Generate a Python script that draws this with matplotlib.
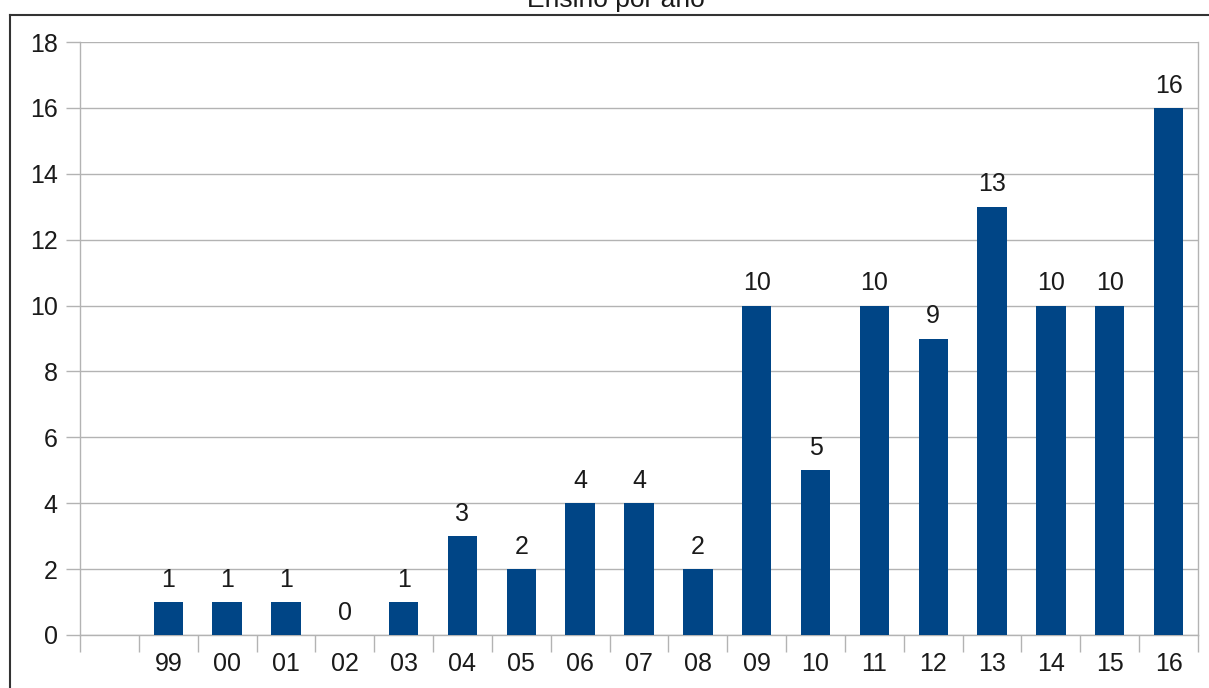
import matplotlib.pyplot as plt
import numpy as np
from matplotlib.lines import Line2D

# anos (dois digitos) e quantidade por ano
anos = ['99', '00', '01', '02', '03', '04', '05', '06', '07', '08',
        '09', '10', '11', '12', '13', '14', '15', '16']
quantidade = [1, 1, 1, 0, 1, 3, 2, 4, 4, 2, 10, 5, 10, 9, 13, 10, 10, 16]

plt.rcParams['font.family'] = ['Liberation Sans', 'DejaVu Sans']

fig = plt.figure(figsize=(12.09, 6.88), dpi=100)
ax = fig.add_axes([80 / 1209, 1 - 635 / 688, 1118 / 1209, 593 / 688])

# primeira categoria fica vazia
x = np.arange(1, len(anos) + 1)
bars = ax.bar(x, quantidade, width=0.5, color='#004586', zorder=3)
for b, v in zip(bars, quantidade):
    ax.annotate(str(v), (b.get_x() + b.get_width() / 2, v),
                xytext=(0, 11), textcoords='offset points',
                ha='center', va='baseline', fontsize=18, color='#1a1a1a')

ax.set_xlim(-0.5, len(anos) + 0.5)
ax.set_ylim(0, 18)
ax.set_yticks(range(0, 19, 2))
ax.yaxis.grid(True, color='#b3b3b3', linewidth=1, zorder=0)

ax.set_xticks(x)
ax.set_xticklabels(anos)
ax.set_xticks(np.arange(-0.5, len(anos) + 1, 1), minor=True)
ax.tick_params(axis='x', which='major', length=0, pad=12, labelsize=18,
               labelcolor='#1a1a1a')
ax.tick_params(axis='x', which='minor', length=12, color='#b3b3b3', width=1)
ax.tick_params(axis='y', length=10, color='#b3b3b3', width=1, pad=6,
               labelsize=18, labelcolor='#1a1a1a')

for s in ['left', 'right', 'bottom']:
    ax.spines[s].set_color('#b3b3b3')
    ax.spines[s].set_linewidth(1)
ax.spines['top'].set_visible(False)

# moldura escura do grafico
fig.add_artist(Line2D([10 / 1209, 1], [1 - 15 / 688, 1 - 15 / 688],
                      color='#333333', linewidth=1.5, transform=fig.transFigure))
fig.add_artist(Line2D([10 / 1209, 10 / 1209], [0, 1 - 15 / 688],
                      color='#333333', linewidth=1.5, transform=fig.transFigure))

fig.text(616 / 1209, 1 - 7 / 688, 'Ensino por ano', ha='center',
         va='baseline', fontsize=19, color='#1a1a1a')

fig.savefig('out.png', dpi=100)
